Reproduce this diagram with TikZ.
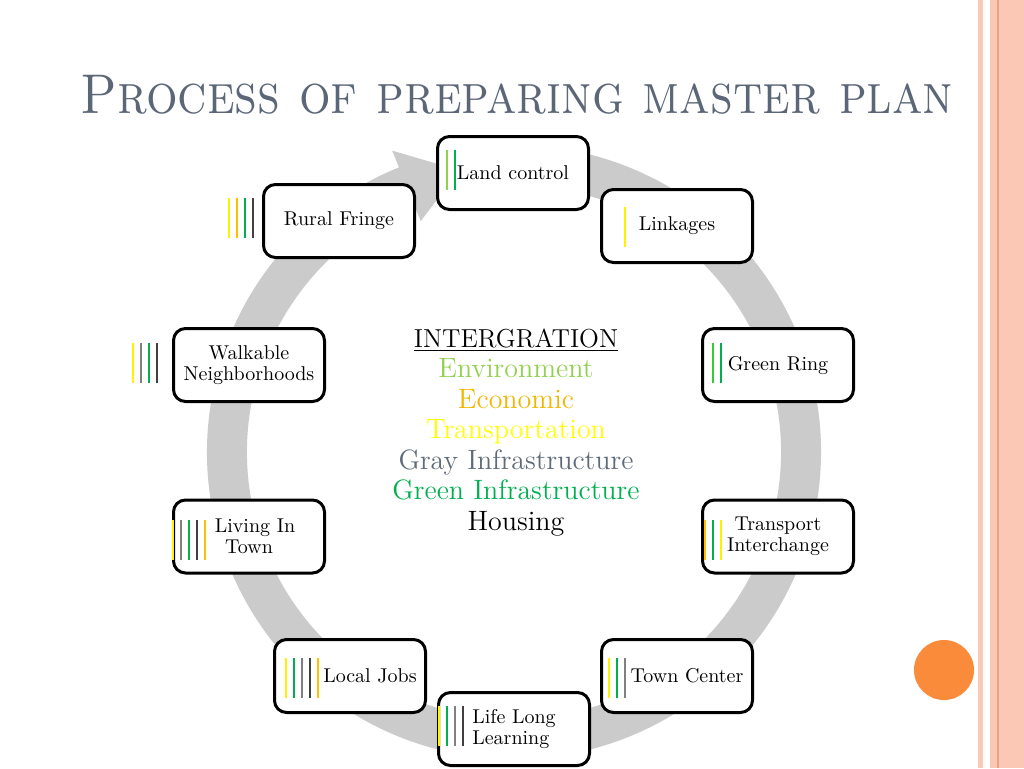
\documentclass[tikz,border=0pt]{standalone}
\usepackage{fontspec}
\usetikzlibrary{calc}
\definecolor{ttl}{HTML}{5B6677}
\definecolor{ring}{HTML}{CBCBCB}
\definecolor{yel}{HTML}{FFF200}
\definecolor{gld}{HTML}{FFC000}
\definecolor{lgr}{HTML}{92D050}
\definecolor{lgrb}{HTML}{33CC33}
\definecolor{grn}{HTML}{00B050}
\definecolor{gry}{HTML}{808080}
\definecolor{drk}{HTML}{404040}
\definecolor{envc}{HTML}{92D050}
\definecolor{ecoc}{HTML}{F2B600}
\definecolor{trac}{HTML}{FFFF00}
\definecolor{grayc}{HTML}{5F6B78}
\definecolor{grnc}{HTML}{00B050}
\definecolor{orng}{HTML}{F98B3A}
\definecolor{pinkA}{HTML}{FAC8B4}
\definecolor{pinkL}{HTML}{E8A488}
\newcommand\mybars[3]{\foreach \cc [count=\ii from 0] in {#3} {\draw[barline, draw=\cc] ({#1+8*\ii},#2) -- ++(0,40);}}
\begin{document}
\begin{tikzpicture}[x=0.5pt,y=-0.5pt,
  box/.style={draw=black, fill=white, line width=1.5pt, rounded corners=6pt,
    minimum width=75.5pt, minimum height=36.5pt, inner sep=0pt, align=center,
    font=\fontsize{10}{10.5}\selectfont},
  barline/.style={line width=1pt},
  ctext/.style={anchor=base, font=\fontsize{14}{15.3}\selectfont}]
\useasboundingbox[fill=white] (0,0) rectangle (1024,768);
% right stripes
\fill[pinkA] (978,0) rectangle (983,768);
\fill[pinkA] (990,0) rectangle (1024,768);
\draw[pinkL, line width=0.6pt] (998,0) -- (998,768);
% title
\node[anchor=base west, text=ttl, inner sep=0pt, font=\fontsize{28}{30}\selectfont] (title) at (80,113) {\scalebox{0.888}[1]{\textsc{Process of preparing master plan}}};
% ring arrow
\begin{scope}[shift={(514,452)}]
\fill[ring] (-80:307) arc[start angle=-80, end angle=248, radius=307]
  -- (248:325) -- (259:287) -- (248:249) -- (248:267)
  arc[start angle=248, end angle=-80, radius=267] -- cycle;
\end{scope}
% boxes
\node[box] (land) at (513,173) {Land control};
\node[box] (link) at (677,226) {Linkages};
\node[box] (rural) at (339,221) {Rural Fringe};
\node[box] (walk) at (249,365) {Walkable\\Neighborhoods};
\node[box] (gring) at (778,365) {Green Ring};
\node[box] (living) at (249,536.5) {\hspace*{6pt}Living In\\Town};
\node[box] (trans) at (778,536.5) {Transport\\Interchange};
\node[box] (jobs) at (350,676) {\hspace*{20pt}Local Jobs};
\node[box] (town) at (677,676) {\hspace*{10pt}Town Center};
\node[box, align=left] (life) at (514,729) {Life Long\\Learning};
% bars
\mybars{447}{150}{lgr,grn}
\mybars{229}{198}{yel,gld,grn,drk}
\mybars{625}{207}{yel}
\mybars{133}{343}{yel,gry,grn,drk}
\mybars{713}{343}{lgrb,grn}
\mybars{173}{520}{yel,gry,grn,drk,gld}
\mybars{705}{520}{gld,grn,yel}
\mybars{286}{658}{yel,grn,gry,drk,gld}
\mybars{439}{706}{yel,grn,gry,drk}
\mybars{609}{658}{yel,grn,gry}
% center text
\node[ctext, font=\fontsize{13}{15.3}\selectfont] (t1) at (516,347) {\underline{INTERGRATION}};
\node[ctext, text=envc] (t2) at (516,377.5) {Environment};
\node[ctext, text=ecoc] (t3) at (516,408) {Economic};
\node[ctext, text=trac] (t4) at (516,438.5) {Transportation};
\node[ctext, text=grayc] (t5) at (516,469) {Gray Infrastructure};
\node[ctext, text=grnc] (t6) at (516,499.5) {Green Infrastructure};
\node[ctext] (t7) at (516,530) {Housing};
% orange dot
\fill[orng] (944,670) circle[radius=30];
\end{tikzpicture}
\end{document}
